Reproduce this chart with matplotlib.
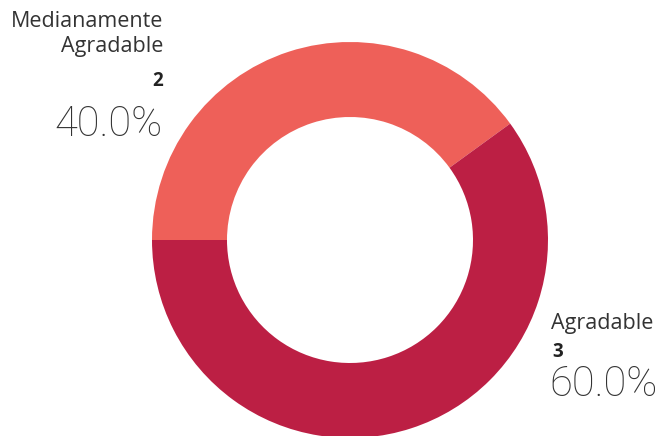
import matplotlib.pyplot as plt

# datos de la encuesta
categorias = ["Medianamente\nAgradable", "Agradable"]
conteos = [2, 3]
colores = ["#EE6059", "#BC1F44"]

total = sum(conteos)
porcentajes = [c / total * 100 for c in conteos]

fig = plt.figure(figsize=(6.62, 4.36), dpi=100)
ax = fig.add_axes([0, 0, 1, 1])

ax.pie(conteos, colors=colores, startangle=180, counterclock=False,
       center=(350, 196), radius=198,
       wedgeprops=dict(width=75, edgecolor="none"))

ax.set_xlim(0, 662)
ax.set_ylim(0, 436)
ax.axis("off")

fuente = "Open Sans"
fuente_pct = "Roboto"
gris = "#333333"

# etiqueta izquierda (Medianamente Agradable)
ax.text(163, 402, categorias[0], ha="right", va="center", fontsize=15.5,
        family=fuente, color=gris, linespacing=1.25)
ax.text(163, 355, str(conteos[0]), ha="right", va="center", fontsize=13.5,
        family=fuente, weight="bold", color="#222222")
ax.text(163, 312, f"{porcentajes[0]:.1f}%", ha="right", va="center",
        fontsize=30, family=fuente_pct, weight="light", color=gris)

# etiqueta derecha (Agradable)
ax.text(551, 113, categorias[1], ha="left", va="center", fontsize=15.5,
        family=fuente, color=gris)
ax.text(552, 84, str(conteos[1]), ha="left", va="center", fontsize=13.5,
        family=fuente, weight="bold", color="#222222")
ax.text(549, 52, f"{porcentajes[1]:.1f}%", ha="left", va="center",
        fontsize=30, family=fuente_pct, weight="light", color=gris)

fig.savefig("out.png", dpi=100)
